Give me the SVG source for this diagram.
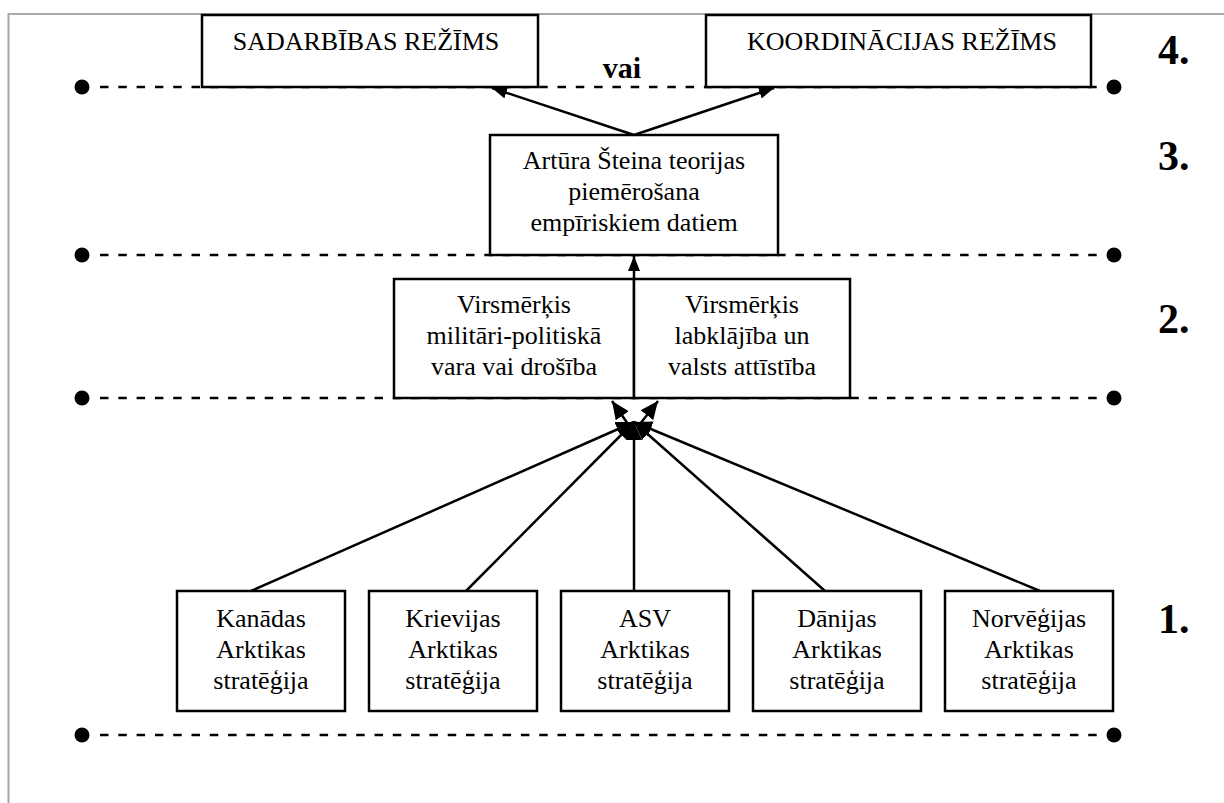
<svg xmlns="http://www.w3.org/2000/svg" width="1224" height="803" viewBox="0 0 1224 803">
<style>
.box{fill:#fff;stroke:#000;stroke-width:2.5}
.t{font-family:"Liberation Serif","Times New Roman",serif;font-size:26px;fill:#000;text-anchor:middle}
.n{font-family:"Liberation Serif","Times New Roman",serif;font-size:42px;font-weight:bold;fill:#000}
.dash{stroke:#000;stroke-width:2.5;stroke-dasharray:8.5 9.8;fill:none}
.dot{fill:#000}
.c{stroke:#000;stroke-width:2.5;fill:none;marker-end:url(#ah)}
.cb{stroke:#000;stroke-width:2.5;fill:none;marker-end:url(#ahb)}
</style>
<defs>
<marker id="ah" viewBox="0 0 15 12" refX="15" refY="6" markerWidth="15" markerHeight="12" markerUnits="userSpaceOnUse" orient="auto">
<path d="M0,0 L15,6 L0,12 z" fill="#000"/>
</marker>
<marker id="ahb" viewBox="0 0 18 16" refX="18" refY="8" markerWidth="18" markerHeight="16" markerUnits="userSpaceOnUse" orient="auto">
<path d="M0,0 L18,8 L0,16 z" fill="#000"/>
</marker>
</defs>
<rect x="0" y="0" width="1224" height="803" fill="#fff"/>
<rect x="8.5" y="14" width="1400" height="1000" fill="none" stroke="#a8a8a8" stroke-width="2"/>
<g id="levels">
<line class="dash" x1="100" y1="87" x2="1106" y2="87"/>
<line class="dash" x1="100" y1="255" x2="1106" y2="255"/>
<line class="dash" x1="100" y1="398" x2="1106" y2="398"/>
<line class="dash" x1="100" y1="735" x2="1106" y2="735"/>
<circle class="dot" cx="82" cy="87" r="7.5"/><circle class="dot" cx="1114" cy="87" r="7.5"/>
<circle class="dot" cx="82" cy="255" r="7.5"/><circle class="dot" cx="1114" cy="255" r="7.5"/>
<circle class="dot" cx="82" cy="398" r="7.5"/><circle class="dot" cx="1114" cy="398" r="7.5"/>
<circle class="dot" cx="82" cy="735" r="7.5"/><circle class="dot" cx="1114" cy="735" r="7.5"/>
<text class="n" x="1158" y="64">4.</text>
<text class="n" x="1158" y="170">3.</text>
<text class="n" x="1158" y="333">2.</text>
<text class="n" x="1158" y="633">1.</text>
<text x="622" y="78" style="font-family:'Liberation Serif','Times New Roman',serif;font-size:30px;font-weight:bold;text-anchor:middle">vai</text>
</g>
<g id="n-sadarbibas"><rect class="box" x="202" y="15" width="336" height="72"/><text class="t" x="366" y="50">SADARBĪBAS REŽĪMS</text></g>
<g id="n-koordinacijas"><rect class="box" x="706" y="15" width="385" height="72"/><text class="t" x="902" y="50">KOORDINĀCIJAS REŽĪMS</text></g>
<g id="n-steins"><rect class="box" x="490" y="135" width="288" height="120"/><text class="t" x="634" y="169">Artūra Šteina teorijas</text><text class="t" x="634" y="200">piemērošana</text><text class="t" x="634" y="231">empīriskiem datiem</text></g>
<g id="n-virs1"><rect class="box" x="394" y="279" width="240" height="119"/><text class="t" x="514" y="313">Virsmērķis</text><text class="t" x="514" y="344">militāri-politiskā</text><text class="t" x="514" y="375">vara vai drošība</text></g>
<g id="n-virs2"><rect class="box" x="634" y="279" width="216" height="119"/><text class="t" x="742" y="313">Virsmērķis</text><text class="t" x="742" y="344">labklājība un</text><text class="t" x="742" y="375">valsts attīstība</text></g>
<g id="n-kanada"><rect class="box" x="177" y="591" width="168" height="120"/><text class="t" x="261" y="627">Kanādas</text><text class="t" x="261" y="658">Arktikas</text><text class="t" x="261" y="689">stratēģija</text></g>
<g id="n-krievija"><rect class="box" x="369" y="591" width="168" height="120"/><text class="t" x="453" y="627">Krievijas</text><text class="t" x="453" y="658">Arktikas</text><text class="t" x="453" y="689">stratēģija</text></g>
<g id="n-asv"><rect class="box" x="561" y="591" width="168" height="120"/><text class="t" x="645" y="627">ASV</text><text class="t" x="645" y="658">Arktikas</text><text class="t" x="645" y="689">stratēģija</text></g>
<g id="n-danija"><rect class="box" x="753" y="591" width="168" height="120"/><text class="t" x="837" y="627">Dānijas</text><text class="t" x="837" y="658">Arktikas</text><text class="t" x="837" y="689">stratēģija</text></g>
<g id="n-norvegija"><rect class="box" x="945" y="591" width="168" height="120"/><text class="t" x="1029" y="627">Norvēģijas</text><text class="t" x="1029" y="658">Arktikas</text><text class="t" x="1029" y="689">stratēģija</text></g>
<g id="connectors">
<line class="c" x1="634" y1="135" x2="492" y2="88"/>
<line class="c" x1="634" y1="135" x2="774" y2="88"/>
<line class="c" x1="634" y1="279" x2="634" y2="256"/>
<line class="cb" x1="628" y1="424" x2="612" y2="401"/>
<line class="cb" x1="640" y1="424" x2="658" y2="401"/>
<line class="cb" x1="251" y1="591" x2="634" y2="422"/>
<line class="cb" x1="466" y1="591" x2="634" y2="422"/>
<line class="cb" x1="634" y1="591" x2="634" y2="422"/>
<line class="cb" x1="825" y1="591" x2="634" y2="422"/>
<line class="cb" x1="1040" y1="591" x2="634" y2="422"/>
</g>
</svg>
